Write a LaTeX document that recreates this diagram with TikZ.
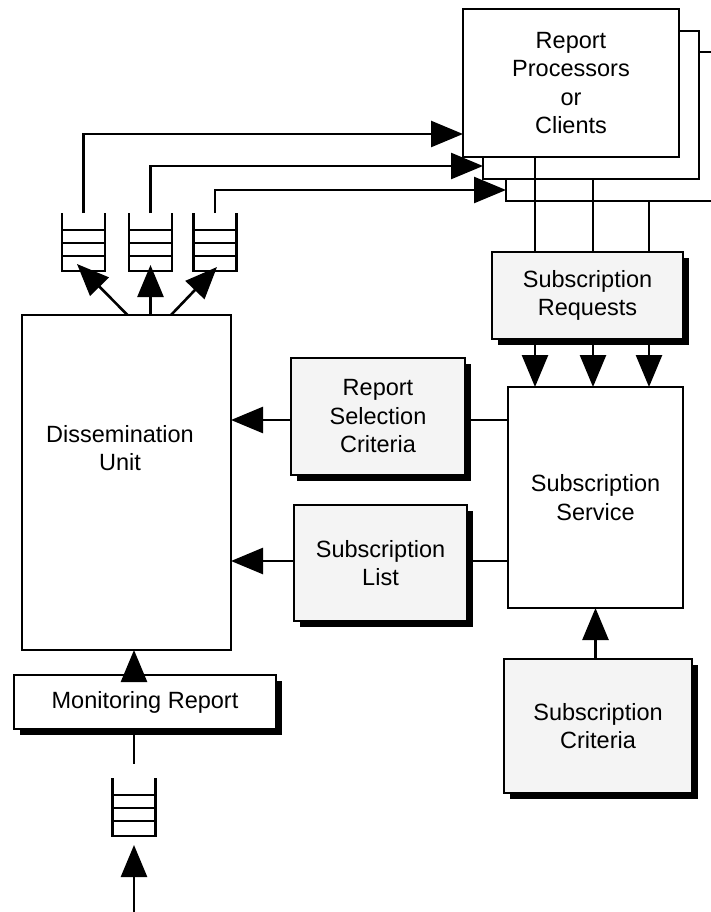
\documentclass[tikz,border=0pt]{standalone}
\usepackage{fontspec}
\setmainfont{Liberation Sans}
\usetikzlibrary{arrows.meta,shadows}
\definecolor{boxgray}{RGB}{244,244,244}
\begin{document}
\begin{tikzpicture}[x=1pt,y=-1pt,
  every node/.style={font=\fontsize{23.5}{28.5}\selectfont, align=center},
  ln/.style={line width=2.6pt},
  arr/.style={ln, -{Triangle[length=32pt,width=26pt]}},
  plainbox/.style={draw, ln, fill=white, inner sep=0pt, outer sep=0pt, anchor=north west},
  shadowed/.style={drop shadow={shadow xshift=6pt, shadow yshift=-6pt, fill=black, opacity=1}},
  graybox/.style={plainbox, fill=boxgray, shadowed},
  qnode/.style={minimum width=43pt, minimum height=58pt, inner sep=0pt, outer sep=0pt, draw=none},
  queue/.pic={
    \draw[ln] (-21.5,-29) -- (-21.5,29) -- (21.5,29) -- (21.5,-29);
    \draw[ln] (-21.5,-12) -- (21.5,-12);
    \draw[ln] (-21.5,1) -- (21.5,1);
    \draw[ln] (-21.5,14) -- (21.5,14);
  }
]
\clip (0,0) rectangle (711,912);

% stacked report processor boxes
\node[plainbox, minimum width=216pt, minimum height=149pt] (rp3) at (506,52) {};
\node[plainbox, minimum width=216pt, minimum height=148pt] (rp2) at (483,31) {};
\node[plainbox, minimum width=216pt, minimum height=148pt] (rp1) at (463,9) {Report\\Processors\\or\\Clients};

% main units
\node[plainbox, minimum width=209pt, minimum height=335pt] (du) at (22,315) {};
\node (dutext) at (120,448) {Dissemination\\Unit};
\node[graybox, minimum width=191pt, minimum height=87pt] (sr) at (492,252) {Subscription\\Requests};
\node[plainbox, minimum width=175pt, minimum height=221pt] (ss) at (508,387) {Subscription\\Service};
\node[graybox, minimum width=174pt, minimum height=117pt] (rsc) at (291,358) {Report\\Selection\\Criteria};
\node[graybox, minimum width=173pt, minimum height=116pt] (sl) at (294,505) {Subscription\\List};
\node[graybox, minimum width=188pt, minimum height=134pt] (sc) at (504,659) {Subscription\\Criteria};
\node[plainbox, shadowed, minimum width=262pt, minimum height=54pt] (mr) at (14,675) {Monitoring Report};

% queues
\pic at (83.5,242) {queue};  \node[qnode] (q1) at (83.5,242) {};
\pic at (150.5,242) {queue}; \node[qnode] (q2) at (150.5,242) {};
\pic at (215,242) {queue};   \node[qnode] (q3) at (215,242) {};
\pic at (134,807) {queue};   \node[qnode] (q0) at (134,807) {};

% queues feeding the report processors
\coordinate (t1) at (83.5,134);
\coordinate (t2) at (150.5,166);
\coordinate (t3) at (215,190);
\draw[arr] (q1.north) -- (t1) -- (rp1.west |- t1);
\draw[arr] (q2.north) -- (t2) -- (rp2.west |- t2);
\draw[arr] (q3.north) -- (t3) -- (rp3.west |- t3);

% dissemination unit filling the queues
\draw[arr] ([xshift=1pt]du.north) -- ([xshift=-6.5pt,yshift=7pt]q1.south);
\draw[arr] (q2.south |- du.north) -- ([yshift=6pt]q2.south);
\draw[arr] ([xshift=44.5pt]du.north) -- ([xshift=2pt,yshift=4pt]q3.south);

% subscription requests from the processors
\coordinate (v1) at (535,0);
\coordinate (v2) at (593,0);
\coordinate (v3) at (649,0);
\draw[ln] (rp1.south -| v1) -- (sr.north -| v1);
\draw[ln] (rp2.south -| v2) -- (sr.north -| v2);
\draw[ln] (rp3.south -| v3) -- (sr.north -| v3);
\draw[arr] (sr.south -| v1) -- (ss.north -| v1);
\draw[arr] (sr.south -| v2) -- (ss.north -| v2);
\draw[arr] (sr.south -| v3) -- (ss.north -| v3);

% subscription service outputs
\coordinate (h1) at (0,420);
\coordinate (h2) at (0,561);
\draw[ln] (rsc.east |- h1) -- (ss.west |- h1);
\draw[arr] (rsc.west |- h1) -- (du.east |- h1);
\draw[ln] (sl.east |- h2) -- (ss.west |- h2);
\draw[arr] (sl.west |- h2) -- (du.east |- h2);
\draw[arr] (sc.north -| ss.south) -- (ss.south);

% incoming monitoring reports
\coordinate (cx) at (134,0);
\coordinate (mrend) at (134,764);
\coordinate (src) at (134,915);
\draw[arr] (mr.north -| cx) -- (du.south -| cx);
\draw[ln] (mr.south -| cx) -- (mrend);
\draw[arr, shorten >=9pt] (src) -- (q0.south);
\end{tikzpicture}
\end{document}
